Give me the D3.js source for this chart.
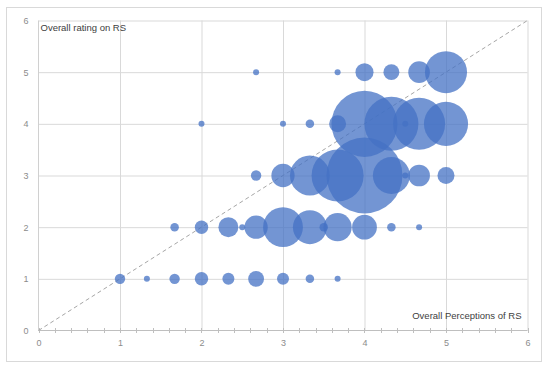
<!DOCTYPE html>
<html>
<head>
<meta charset="utf-8">
<script src="https://cdn.jsdelivr.net/npm/d3@7"></script>
<style>
  html, body { margin: 0; padding: 0; background: #fff; }
  svg { display: block; font-family: "Liberation Sans", Arial, sans-serif; }
  .grid line { stroke: #d9d9d9; stroke-width: 1; }
  .grid path { display: none; }
  .tick-label text { fill: #8c8c8c; font-size: 9px; }
  .tick-label path, .tick-label line { display: none; }
</style>
</head>
<body>
<div id="chart"></div>
<script>
// Bubbles: perception score (x), rating (y), number of respondents (size)
const perception = [
  1, 1.33, 1.67, 2, 2.33, 2.67, 3, 3.33, 3.67,
  1.67, 2, 2.33, 2.5, 2.67, 3, 3.33, 3.5, 3.67, 4, 4.33, 4.67,
  2.67, 3, 3.33, 3.67, 4, 4.33, 4.5, 4.67, 5,
  2, 3, 3.33, 3.67, 4, 4.33, 4.5, 4.67, 5,
  2.67, 3.67, 4, 4.33, 4.67, 5
];
const rating = [
  1, 1, 1, 1, 1, 1, 1, 1, 1,
  2, 2, 2, 2, 2, 2, 2, 2, 2, 2, 2, 2,
  3, 3, 3, 3, 3, 3, 3, 3, 3,
  4, 4, 4, 4, 4, 4, 4, 4, 4,
  5, 5, 5, 5, 5, 5
];
const respondents = [
  3, 1, 3, 5, 4, 7, 4, 2, 1,
  2, 5, 11, 1, 15, 44, 32, 2, 22, 17, 2, 1,
  3, 15, 44, 75, 160, 38, 1, 13, 8,
  1, 1, 2, 8, 121, 81, 1, 75, 54,
  1, 1, 9, 7, 13, 49
];
const axisTicks = [0, 1, 2, 3, 4, 5, 6];
const minorTicks = d3.range(0, 6.01, 0.2);
const xTitle = 'Overall Perceptions of RS';
const yTitle = 'Overall rating on RS';

const W = 550, H = 370;
const plot = { left: 38.5, right: 527.5, top: 20.5, bottom: 330.5 };

const svg = d3.select('#chart')
  .append('svg')
  .attr('width', W)
  .attr('height', H);

// outer chart border
svg.append('rect')
  .attr('x', 6.5).attr('y', 7.5)
  .attr('width', 535).attr('height', 354)
  .attr('fill', '#fff')
  .attr('stroke', '#d9d9d9');

const x = d3.scaleLinear().domain([0, 6]).range([plot.left, plot.right]);
const y = d3.scaleLinear().domain([0, 6]).range([plot.bottom, plot.top]);
const r = d3.scaleSqrt().domain([0, 160]).range([0, 38]);

// gridlines
svg.append('g')
  .attr('class', 'grid')
  .attr('transform', `translate(0,${plot.bottom})`)
  .call(d3.axisBottom(x).tickValues(axisTicks.slice(1)).tickSize(-(plot.bottom - plot.top)).tickFormat(''));
svg.append('g')
  .attr('class', 'grid')
  .attr('transform', `translate(${plot.left},0)`)
  .call(d3.axisLeft(y).tickValues(axisTicks.slice(1)).tickSize(-(plot.right - plot.left)).tickFormat(''));

// axis lines
svg.append('line')
  .attr('x1', plot.left).attr('x2', plot.right)
  .attr('y1', plot.bottom).attr('y2', plot.bottom)
  .attr('stroke', '#bfbfbf');
svg.append('line')
  .attr('x1', plot.left).attr('x2', plot.left)
  .attr('y1', plot.top).attr('y2', plot.bottom)
  .attr('stroke', '#d0d0d0');

// minor ticks on x axis
svg.append('g')
  .selectAll('line')
  .data(minorTicks)
  .join('line')
  .attr('x1', d => Math.round(x(d)) + 0.5)
  .attr('x2', d => Math.round(x(d)) + 0.5)
  .attr('y1', plot.bottom - 2.5)
  .attr('y2', plot.bottom + 2.5)
  .attr('stroke', '#bfbfbf');

// tick labels
const fmt = d3.format('d');
svg.append('g')
  .attr('class', 'tick-label')
  .attr('transform', `translate(0,${plot.bottom + 9})`)
  .call(d3.axisBottom(x).tickValues(axisTicks).tickFormat(fmt).tickSize(0).tickPadding(0));
svg.append('g')
  .attr('class', 'tick-label')
  .attr('transform', `translate(${plot.left - 10},0)`)
  .call(d3.axisLeft(y).tickValues(axisTicks).tickFormat(fmt).tickSize(0).tickPadding(0));

// y = x reference line
svg.append('line')
  .attr('x1', x(0)).attr('y1', y(0))
  .attr('x2', x(6)).attr('y2', y(6))
  .attr('stroke', '#a6a6a6')
  .attr('stroke-width', 1)
  .attr('stroke-dasharray', '4,3');

// bubbles
const points = perception.map((p, i) => ({ x: p, y: rating[i], n: respondents[i] }));
svg.append('g')
  .selectAll('circle')
  .data(points)
  .join('circle')
  .attr('cx', d => x(d.x))
  .attr('cy', d => y(d.y))
  .attr('r', d => r(d.n))
  .attr('fill', '#4472c4')
  .attr('fill-opacity', 0.75);

// axis titles
svg.append('text')
  .attr('x', 40.5).attr('y', 31)
  .attr('fill', '#404040')
  .attr('font-size', 9.5)
  .text(yTitle);
svg.append('text')
  .attr('x', 521.5).attr('y', 319)
  .attr('text-anchor', 'end')
  .attr('fill', '#404040')
  .attr('font-size', 9.5)
  .text(xTitle);
</script>
</body>
</html>
